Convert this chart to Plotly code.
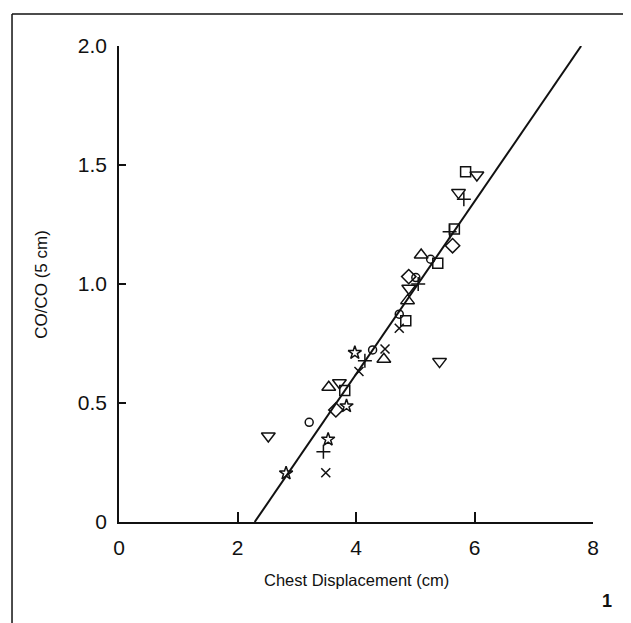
import plotly.graph_objects as go

# ---- data ----
square_x = [5.85, 5.66, 5.38, 4.84, 3.81]
square_y = [1.472, 1.231, 1.087, 0.846, 0.552]
tri_down_x = [6.04, 5.73, 4.89, 5.41, 3.72, 2.52]
tri_down_y = [1.458, 1.384, 0.982, 0.674, 0.585, 0.361]
tri_up_x = [5.10, 4.87, 4.47, 3.54]
tri_up_y = [1.122, 0.930, 0.684, 0.566]
diamond_x = [5.63, 4.89, 3.66]
diamond_y = [1.161, 1.031, 0.471]
circle_x = [5.26, 5.01, 4.73, 4.28, 3.21]
circle_y = [1.104, 1.027, 0.873, 0.723, 0.419]
plus_x = [5.82, 5.58, 5.05, 4.15, 3.45]
plus_y = [1.356, 1.22, 1.0, 0.678, 0.295]
cross_x = [4.73, 4.49, 4.05, 3.49]
cross_y = [0.814, 0.727, 0.632, 0.207]
star_x = [3.98, 3.84, 3.53, 2.82]
star_y = [0.711, 0.487, 0.347, 0.205]
fit_x = [2.29, 7.8]
fit_y = [0.0, 2.0]

x_ticks = [0, 2, 4, 6, 8]
x_ticklabels = ["0", "2", "4", "6", "8"]
y_ticks = [0, 0.5, 1.0, 1.5, 2.0]
y_ticklabels = ["0", "0.5", "1.0", "1.5", "2.0"]

FONT = "Liberation Sans, Arial, sans-serif"
INK = "#111111"

fig = go.Figure()
fig.add_trace(go.Scatter(x=fit_x, y=fit_y, mode="lines",
                         line=dict(color=INK, width=2), showlegend=False, hoverinfo="skip"))

series = [
    (square_x, square_y, "square-open", 10),
    (tri_down_x, tri_down_y, "triangle-down-open", 12),
    (tri_up_x, tri_up_y, "triangle-up-open", 12),
    (diamond_x, diamond_y, "diamond-open", 11),
    (circle_x, circle_y, "circle-open", 8),
    (plus_x, plus_y, "cross-thin-open", 10),
    (cross_x, cross_y, "x-thin-open", 9),
    (star_x, star_y, "star-open", 10),
]
for xs, ys, sym, sz in series:
    fig.add_trace(go.Scatter(x=xs, y=ys, mode="markers", showlegend=False,
                             marker=dict(symbol=sym, size=sz, color=INK,
                                         line=dict(color=INK, width=1.5))))

axis_common = dict(showline=True, linecolor=INK, linewidth=1.5, ticks="inside",
                   tickcolor=INK, tickwidth=1.5, showgrid=False, zeroline=False,
                   tickfont=dict(family=FONT, size=21, color=INK))
fig.update_xaxes(range=[0, 8], tickvals=x_ticks, ticktext=x_ticklabels, ticklen=10,
                 ticklabelstandoff=6, **axis_common)
fig.update_yaxes(range=[0, 2], tickvals=y_ticks, ticktext=y_ticklabels, ticklen=7,
                 ticklabelstandoff=6, **axis_common)

# The page keeps the browser's default 8px body margin, so the figure is
# 8px smaller on each axis and its margins are reduced accordingly.
fig.update_layout(
    width=623, height=615,
    margin=dict(l=111, r=38, t=38, b=101),
    plot_bgcolor="white", paper_bgcolor="white",
    font=dict(family=FONT, color=INK),
    shapes=[
        dict(type="line", xref="paper", yref="paper", x0=-0.2257, x1=-0.2257,
             y0=-0.22, y1=1.0672, line=dict(color=INK, width=1.5)),
        dict(type="line", xref="paper", yref="paper", x0=-0.2257, x1=1.09,
             y0=1.0672, y1=1.0672, line=dict(color=INK, width=1.5)),
    ],
    annotations=[
        dict(text="Chest Displacement (cm)", xref="paper", yref="paper", x=0.5, y=-0.122,
             showarrow=False, font=dict(family=FONT, size=16.5, color=INK), xanchor="center", yanchor="middle"),
        dict(text="CO/CO (5 cm)", xref="paper", yref="paper", x=-0.165, y=0.5, textangle=-90,
             showarrow=False, font=dict(family=FONT, size=17, color=INK), xanchor="center", yanchor="middle"),
        dict(text="<b>1</b>", xref="paper", yref="paper", x=1.03, y=-0.165,
             showarrow=False, font=dict(family=FONT, size=18, color=INK), xanchor="center", yanchor="middle"),
    ],
)

fig.write_html("out.html", config={"displayModeBar": False})
